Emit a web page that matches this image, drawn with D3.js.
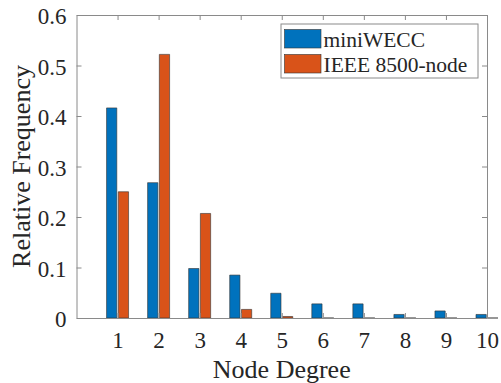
<!DOCTYPE html>
<html>
<head>
<meta charset="utf-8">
<script src="https://cdn.jsdelivr.net/npm/d3@7"></script>
<style>
  html, body { margin: 0; padding: 0; background: #fff; }
  svg { display: block; }
  text { font-family: "Liberation Serif", "Times New Roman", serif; fill: #262626; }
</style>
</head>
<body>
<svg id="chart" width="501" height="383"></svg>
<script>
// ---- data ----
const categories = [1, 2, 3, 4, 5, 6, 7, 8, 9, 10];
const seriesNames = ["miniWECC", "IEEE 8500-node"];
const miniWECC = [0.416, 0.268, 0.098, 0.085, 0.049, 0.028, 0.028, 0.007, 0.014, 0.007];
const ieee8500 = [0.250, 0.522, 0.207, 0.017, 0.003, 0, 0, 0, 0, 0];
const yTicks = [0, 0.1, 0.2, 0.3, 0.4, 0.5, 0.6];
const xTicks = [1, 2, 3, 4, 5, 6, 7, 8, 9, 10];
const colors = ["#0072BD", "#D95319"];
const xLabel = "Node Degree";
const yLabel = "Relative Frequency";

// ---- layout ----
const svg = d3.select("#chart");
const mLeft = 76.5, mRight = 487, mTop = 15, mBottom = 318;
const x = d3.scaleLinear().domain([0, 10]).range([mLeft, mRight]);
const y = d3.scaleLinear().domain([0, 0.6]).range([mBottom, mTop]);
const axisColor = "#8a8a8a";

const series = [miniWECC, ieee8500];
const offsets = [-0.143, 0.143];
const barW = 0.25;

// bars
series.forEach((vals, si) => {
  svg.append("g").selectAll("path")
    .data(categories.map((c, i) => ({c, v: vals[i]})))
    .join("path")
    .attr("d", d => {
      const x0 = x(d.c + offsets[si] - barW / 2), x1 = x(d.c + offsets[si] + barW / 2);
      const y0 = y(0), y1 = y(d.v);
      return `M${x0},${y0}V${y1}H${x1}V${y0}Z`;
    })
    .attr("fill", colors[si])
    .attr("stroke", "#333")
    .attr("stroke-width", 0.6);
});

// axes (box)
const tickLen = 5;
const gx = svg.append("g").attr("transform", `translate(0,${mBottom})`)
  .call(d3.axisBottom(x).tickValues(xTicks).tickSizeInner(-tickLen).tickSizeOuter(0).tickPadding(14).tickFormat(d3.format("d")));
const gxTop = svg.append("g").attr("transform", `translate(0,${mTop})`)
  .call(d3.axisTop(x).tickValues(xTicks).tickSizeInner(-tickLen).tickSizeOuter(0).tickFormat(""));
const gy = svg.append("g").attr("transform", `translate(${mLeft},0)`)
  .call(d3.axisLeft(y).tickValues(yTicks).tickSizeInner(-tickLen).tickSizeOuter(0).tickPadding(10)
    .tickFormat(d => d === 0 ? "0" : d3.format(".1f")(d)));
const gyR = svg.append("g").attr("transform", `translate(${mRight},0)`)
  .call(d3.axisRight(y).tickValues(yTicks).tickSizeInner(-tickLen).tickSizeOuter(0).tickFormat(""));

[gx, gxTop, gy, gyR].forEach(g => {
  g.select(".domain").attr("stroke", axisColor).attr("stroke-width", 1);
  g.selectAll(".tick line").attr("stroke", axisColor).attr("stroke-width", 1);
  g.selectAll("text").attr("font-family", "Liberation Serif, Times New Roman, serif")
    .attr("fill", "#262626").attr("font-size", 23);
});
gy.selectAll(".tick text").attr("dy", "0.38em");
gx.selectAll(".tick text").attr("dy", "0.71em");

// axis labels
svg.append("text")
  .attr("x", (mLeft + mRight) / 2).attr("y", 378)
  .attr("text-anchor", "middle").attr("font-size", 26)
  .text(xLabel);
svg.append("text")
  .attr("transform", `translate(30,${(mTop + mBottom) / 2}) rotate(-90)`)
  .attr("text-anchor", "middle").attr("font-size", 26)
  .text(yLabel);

// legend
const lg = svg.append("g");
lg.append("rect").attr("x", 281).attr("y", 24).attr("width", 197).attr("height", 54)
  .attr("fill", "#fff").attr("stroke", axisColor).attr("stroke-width", 1);
seriesNames.forEach((name, i) => {
  const yy = 29.5 + i * 25;
  lg.append("rect").attr("x", 284.5).attr("y", yy).attr("width", 36.5).attr("height", 18.5)
    .attr("fill", colors[i]).attr("stroke", "#333").attr("stroke-width", 0.6);
  lg.append("text").attr("x", 323.5).attr("y", yy + 17.5).attr("font-size", 21.5).text(name);
});
</script>
</body>
</html>
